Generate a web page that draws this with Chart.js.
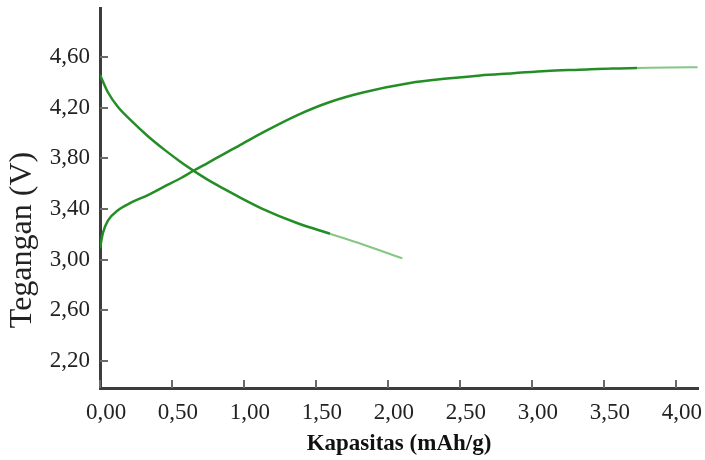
<!DOCTYPE html>
<html>
<head>
<meta charset="utf-8">
<script src="https://cdn.jsdelivr.net/npm/chart.js@4.4.1/dist/chart.umd.min.js"></script>
<style>
  html, body { margin: 0; padding: 0; background: #fff; }
  .chart-container { position: relative; width: 705px; height: 460px; }
</style>
</head>
<body>
<div class="chart-container"><canvas id="myChart"></canvas></div>
<script>
// Charge curve (capacity in mAh/g, voltage in V)
const chargeCap = [0, 0.02, 0.056, 0.125, 0.215, 0.333, 0.451, 0.563, 0.646, 0.75, 0.868, 0.958, 1.132, 1.368, 1.597, 1.826, 2.153, 2.41, 2.64, 2.87, 3.10, 3.33, 3.56, 3.73, 3.95, 4.15];
const chargeVolt = [3.09, 3.21, 3.31, 3.39, 3.45, 3.51, 3.58, 3.645, 3.70, 3.765, 3.84, 3.895, 4.005, 4.14, 4.245, 4.32, 4.395, 4.43, 4.455, 4.472, 4.49, 4.50, 4.51, 4.513, 4.517, 4.52];

// Discharge curve
const dischargeCap = [0, 0.056, 0.125, 0.215, 0.333, 0.451, 0.563, 0.646, 0.75, 0.868, 0.958, 1.132, 1.368, 1.597, 1.826, 2.10];
const dischargeVolt = [4.46, 4.32, 4.205, 4.10, 3.975, 3.865, 3.77, 3.705, 3.63, 3.555, 3.50, 3.40, 3.29, 3.205, 3.12, 3.01];

const xTicks = [0, 0.5, 1.0, 1.5, 2.0, 2.5, 3.0, 3.5, 4.0];
const yTicks = [2.2, 2.6, 3.0, 3.4, 3.8, 4.2, 4.6];

const darkGreen = 'rgb(36, 142, 38)';
const lightGreen = 'rgb(132, 198, 132)';

const toPoints = (xs, ys) => xs.map((x, i) => ({ x: x, y: ys[i] }));
const commaLabel = v => v.toFixed(2).replace('.', ',');

// the tail end of each curve is fainter
const curve = (xs, ys, fadeFrom) => ({
  data: toPoints(xs, ys),
  borderColor: darkGreen,
  borderWidth: 2.5,
  pointRadius: 0,
  fill: false,
  cubicInterpolationMode: 'monotone',
  segment: {
    borderColor: c => (c.p0.parsed.x >= fadeFrom ? lightGreen : darkGreen),
    borderWidth: c => (c.p0.parsed.x >= fadeFrom ? 2 : 2.5)
  }
});

// drop the label half-height padding so the plot box is set by layout.padding
const noEdgePadding = scale => {
  scale.paddingTop = 0;
  scale.paddingBottom = 0;
  scale.paddingLeft = 0;
  scale.paddingRight = 0;
};

// short tick marks pointing into the plot area
const innerTicks = {
  id: 'innerTicks',
  afterDraw(chart) {
    const { ctx, chartArea, scales } = chart;
    ctx.save();
    ctx.strokeStyle = '#6a6a6a';
    ctx.lineWidth = 2;
    ctx.beginPath();
    scales.y.ticks.forEach(t => {
      const py = Math.round(scales.y.getPixelForValue(t.value));
      ctx.moveTo(chartArea.left, py);
      ctx.lineTo(chartArea.left + 8, py);
    });
    scales.x.ticks.forEach(t => {
      const px = Math.round(scales.x.getPixelForValue(t.value));
      ctx.moveTo(px, chartArea.bottom);
      ctx.lineTo(px, chartArea.bottom - 8);
    });
    ctx.stroke();
    ctx.restore();
  }
};

// rotated y axis title
const yTitle = {
  id: 'yTitle',
  afterDraw(chart) {
    const { ctx } = chart;
    ctx.save();
    ctx.translate(31, 240);
    ctx.rotate(-Math.PI / 2);
    ctx.font = '32px "Liberation Serif"';
    ctx.fillStyle = '#222';
    ctx.textAlign = 'center';
    ctx.textBaseline = 'alphabetic';
    ctx.fillText('Tegangan (V)', 0, 0);
    ctx.restore();
  }
};

const ctx = document.getElementById('myChart').getContext('2d');
const myChart = new Chart(ctx, {
  type: 'line',
  data: {
    datasets: [
      curve(chargeCap, chargeVolt, 3.73),
      curve(dischargeCap, dischargeVolt, 1.55)
    ]
  },
  options: {
    responsive: true,
    maintainAspectRatio: false,
    animation: false,
    devicePixelRatio: 1,
    layout: { padding: { top: 8, right: 7, left: 0, bottom: 0 } },
    plugins: {
      legend: { display: false },
      tooltip: { enabled: false }
    },
    scales: {
      x: {
        type: 'linear',
        min: 0,
        max: 4.153,
        afterBuildTicks: scale => { scale.ticks = xTicks.map(v => ({ value: v })); },
        afterFit: scale => { scale.height = 72; noEdgePadding(scale); },
        grid: { display: false },
        border: { display: true, color: '#3c3c3c', width: 3 },
        ticks: {
          color: '#222',
          padding: 3,
          labelOffset: 6,
          maxRotation: 0,
          autoSkip: false,
          font: { family: '"Liberation Serif"', size: 23 },
          callback: v => commaLabel(v)
        },
        title: {
          display: true,
          text: 'Kapasitas (mAh/g)',
          color: '#111',
          padding: { top: 0, bottom: 2 },
          font: { family: '"Liberation Serif"', size: 23, weight: 'bold' }
        }
      },
      y: {
        min: 1.987,
        max: 4.987,
        afterBuildTicks: scale => { scale.ticks = yTicks.map(v => ({ value: v })); },
        afterFit: scale => { scale.width = 100; noEdgePadding(scale); },
        grid: { display: false },
        border: { display: true, color: '#3c3c3c', width: 3 },
        ticks: {
          color: '#222',
          padding: 2,
          autoSkip: false,
          font: { family: '"Liberation Serif"', size: 23 },
          callback: v => commaLabel(v)
        }
      }
    }
  },
  plugins: [innerTicks, yTitle]
});
</script>
</body>
</html>
